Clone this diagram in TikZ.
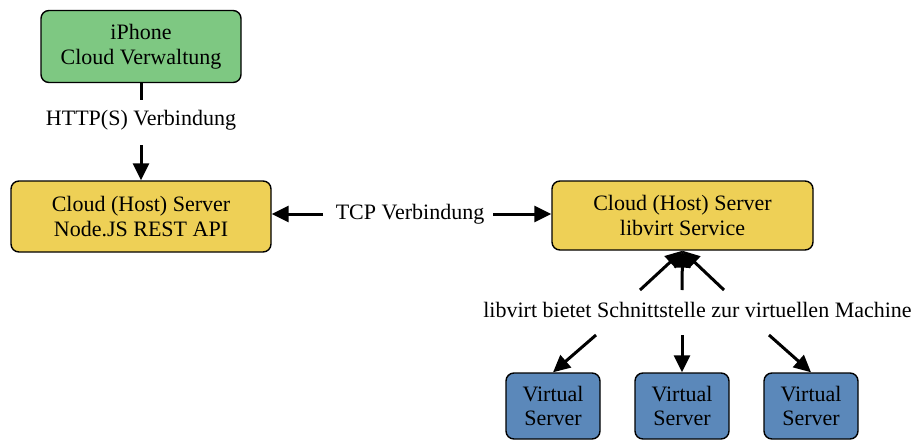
\documentclass[tikz,border=0pt]{standalone}
\usepackage{fontspec}
\setmainfont{Liberation Serif}
\usetikzlibrary{arrows.meta}
\definecolor{boxgreen}{RGB}{126,200,130}
\definecolor{boxyellow}{RGB}{238,208,86}
\definecolor{boxblue}{RGB}{91,136,186}
\tikzset{
  box/.style={draw=black, line width=1.4pt, rounded corners=8pt, align=center, font=\fontsize{22}{24.5}\selectfont, inner sep=0pt},
  lbl/.style={font=\fontsize{22}{24.5}\selectfont, inner sep=0pt},
  conn/.style={line width=3pt, -{Triangle[length=17pt,width=16pt]}},
  plain/.style={line width=3pt},
}
\begin{document}
\begin{tikzpicture}[x=1pt,y=-1pt]
\useasboundingbox (0,0) rectangle (915,442);
\node[box, fill=boxgreen, minimum width=200pt, minimum height=72pt] (iphone) at (141,46.5) {iPhone\\Cloud Verwaltung};
\node[box, fill=boxyellow, minimum width=260pt, minimum height=71pt] (rest) at (141,216.5) {Cloud (Host) Server\\Node.JS REST API};
\node[box, fill=boxyellow, minimum width=261pt, minimum height=69pt] (libvirt) at (682.5,215.5) {Cloud (Host) Server\\libvirt Service};
\node[box, fill=boxblue, minimum width=94pt, minimum height=66pt] (vs1) at (553,406) {Virtual\\Server};
\node[box, fill=boxblue, minimum width=94pt, minimum height=66pt] (vs2) at (682,406) {Virtual\\Server};
\node[box, fill=boxblue, minimum width=94pt, minimum height=66pt] (vs3) at (811,406) {Virtual\\Server};
\node[lbl] (http) at (141,120) {HTTP(S) Verbindung};
\node[lbl] (tcp) at (410,214) {TCP Verbindung};
\node[lbl] (lv) at (697.5,310) {libvirt bietet Schnittstelle zur virtuellen Machine};
% HTTP
\coordinate (h1) at (141,100);
\coordinate (h2) at (141,145);
\draw[plain] (iphone.south) -- (h1);
\draw[conn] (h2) -- (rest.north);
% TCP
\coordinate (t1) at (323,214);
\coordinate (t2) at (493,214);
\draw[conn] (t1) -- (rest.east |- t1);
\draw[conn] (t2) -- (libvirt.west |- t2);
% fan up
\coordinate (u1) at (640,290);
\coordinate (u2) at (682,290);
\coordinate (u3) at (724,290);
\draw[conn] (u1) -- (libvirt.south);
\draw[conn] (u2) -- (libvirt.south);
\draw[conn] (u3) -- (libvirt.south);
% fan down
\coordinate (d1) at (596,335);
\coordinate (d2) at (682,335);
\coordinate (d3) at (769,335);
\draw[conn] (d1) -- (vs1.north);
\draw[conn] (d2) -- (vs2.north);
\draw[conn] (d3) -- (vs3.north);
\end{tikzpicture}
\end{document}
